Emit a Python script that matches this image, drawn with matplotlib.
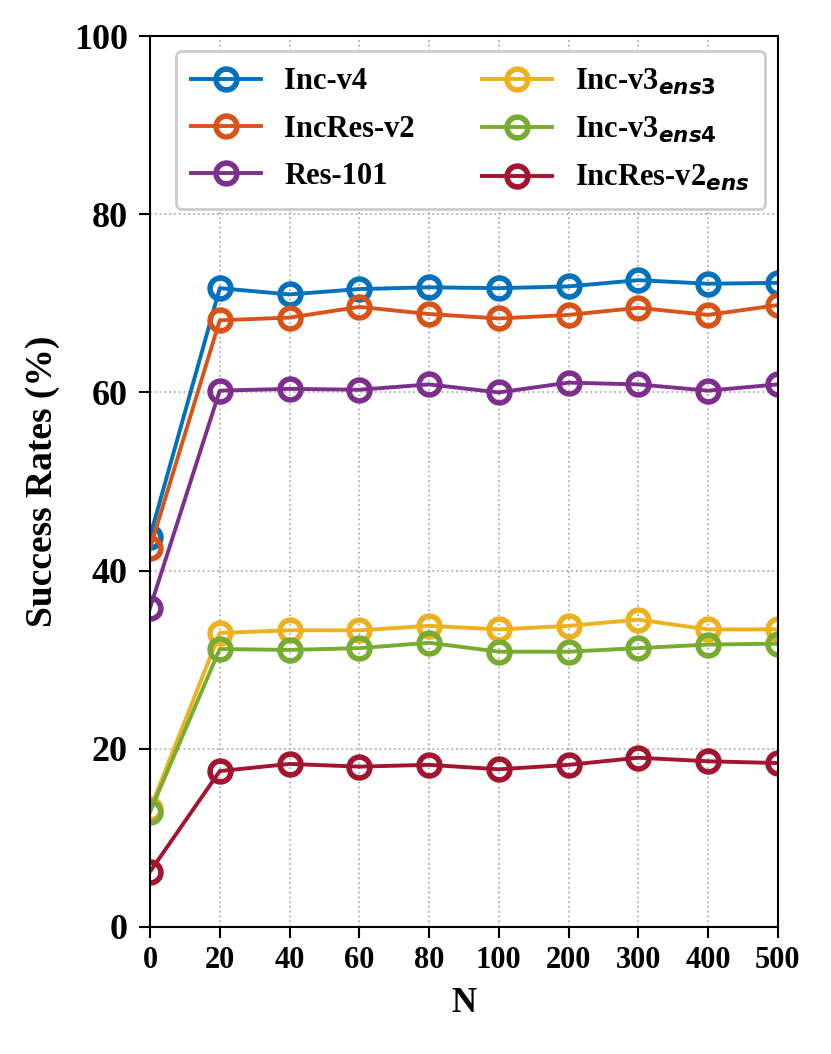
import matplotlib.pyplot as plt
import numpy as np

plt.rcParams['font.family'] = ['Liberation Serif', 'DejaVu Sans']
plt.rcParams['font.weight'] = 'bold'
plt.rcParams['mathtext.fontset'] = 'dejavusans'

n_labels = ['0', '20', '40', '60', '80', '100', '200', '300', '400', '500']

inc_v4 = [43.8, 71.7, 71.0, 71.6, 71.8, 71.7, 71.9, 72.6, 72.2, 72.3]
incres_v2 = [42.5, 68.1, 68.4, 69.6, 68.8, 68.3, 68.7, 69.5, 68.7, 69.8]
res_101 = [35.8, 60.2, 60.4, 60.3, 60.9, 60.0, 61.1, 60.9, 60.2, 60.9]
inc_v3_ens3 = [13.2, 33.0, 33.3, 33.3, 33.8, 33.4, 33.8, 34.5, 33.4, 33.4]
inc_v3_ens4 = [12.9, 31.2, 31.1, 31.3, 31.9, 30.9, 30.9, 31.3, 31.7, 31.8]
incres_v2_ens = [6.2, 17.5, 18.3, 18.0, 18.2, 17.7, 18.2, 19.0, 18.6, 18.4]

series = [
    ('Inc-v4', inc_v4, '#0072BD'),
    ('IncRes-v2', incres_v2, '#D95319'),
    ('Res-101', res_101, '#7E2F8E'),
    ('Inc-v3$_{ens3}$', inc_v3_ens3, '#EDB120'),
    ('Inc-v3$_{ens4}$', inc_v3_ens4, '#77AC30'),
    ('IncRes-v2$_{ens}$', incres_v2_ens, '#A2142F'),
]

fig = plt.figure(figsize=(8.31, 10.54), dpi=100)
ax = fig.add_axes([0.1805, 0.1205, 0.7555, 0.8453])

x = np.arange(len(n_labels))
for name, vals, c in series:
    ax.plot(x, vals, '-o', color=c, label=name, lw=2.8, ms=15,
            mfc='none', mew=4)

ax.set_xlim(0, len(n_labels) - 1)
ax.set_ylim(0, 100)
ax.set_xticks(x)
ax.set_xticklabels(n_labels)
ax.set_yticks(np.arange(0, 101, 20))
ax.tick_params(width=1.5, length=8)
ax.tick_params(axis='y', labelsize=26, pad=8)
ax.tick_params(axis='x', labelsize=22, pad=6)
for s in ax.spines.values():
    s.set_linewidth(1.5)
ax.grid(True, linestyle=':', color='#b0b0b0', lw=1.3)
ax.set_xlabel('N', fontsize=25, fontweight='bold', labelpad=8)
ax.set_ylabel('Success Rates (%)', fontsize=27, fontweight='bold',
              labelpad=10)

leg = ax.legend(ncol=2, loc='upper center', bbox_to_anchor=(0.51, 0.983),
                fontsize=22, handlelength=2.3, handletextpad=0.75,
                columnspacing=2.2, labelspacing=0.6, borderpad=0.5,
                borderaxespad=0, fancybox=True,
                edgecolor='#cccccc', framealpha=1)
leg.get_frame().set_linewidth(2)

fig.savefig('out.png', dpi=100)
